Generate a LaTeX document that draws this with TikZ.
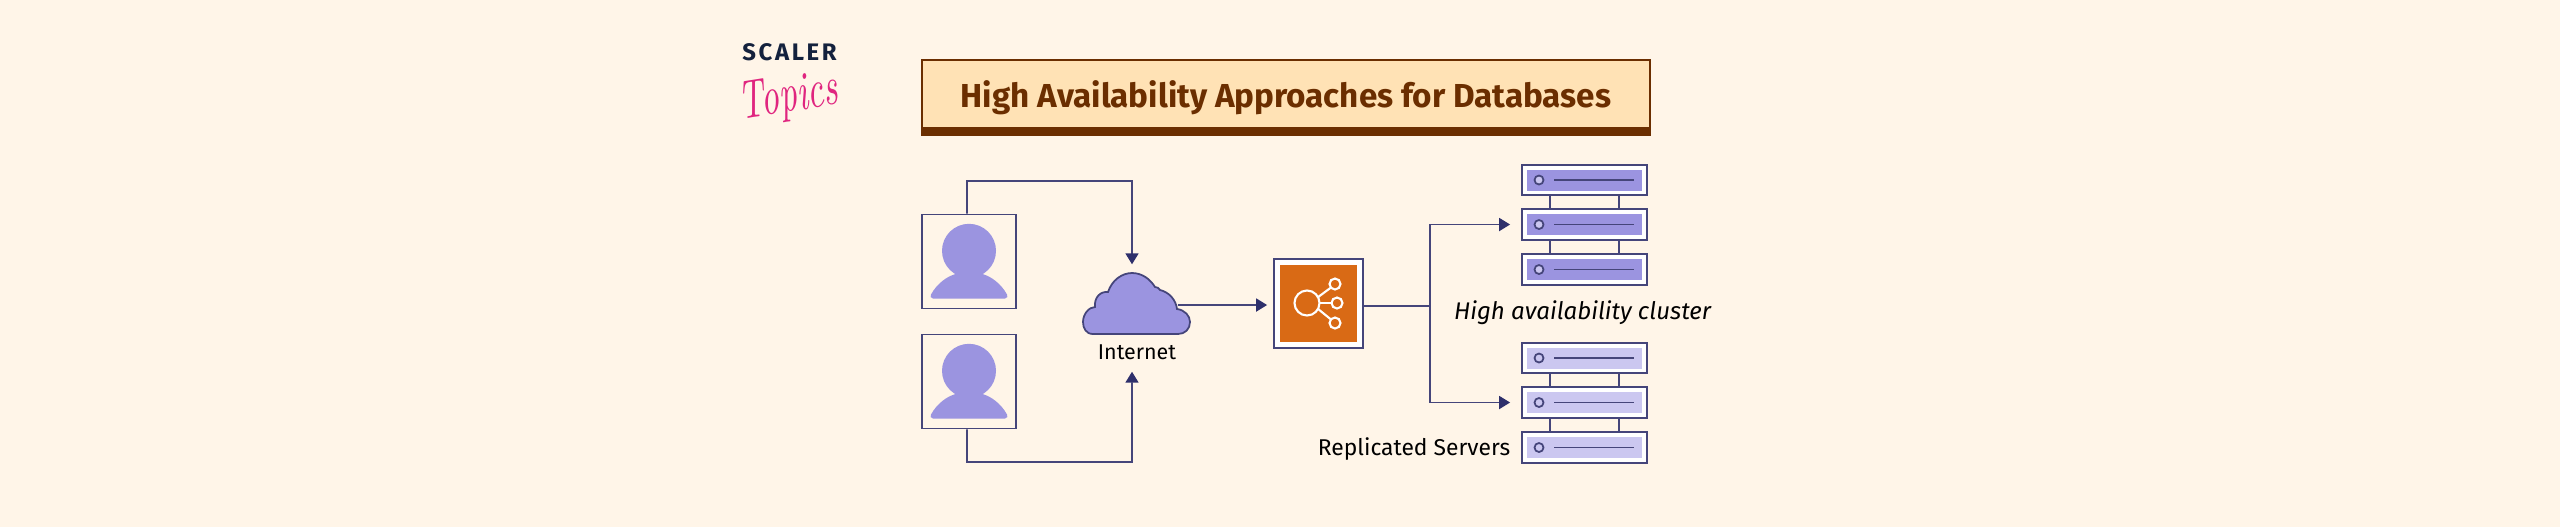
\documentclass[tikz,border=0pt]{standalone}
\usepackage{fontspec}
\setmainfont{Fira Sans}
\newfontfamily\logofont[LetterSpace=11]{Fira Sans}
\usetikzlibrary{arrows.meta,positioning,calc}
\definecolor{cream}{HTML}{FFF5E8}
\definecolor{titlefill}{HTML}{FFE2B5}
\definecolor{titlebrown}{HTML}{6B2E00}
\definecolor{navy}{HTML}{45457A}
\definecolor{tipnavy}{HTML}{2E2F6B}
\definecolor{lilac}{HTML}{9B94E0}
\definecolor{palelilac}{HTML}{CBC7F0}
\definecolor{lborange}{HTML}{D96A15}
\definecolor{logonavy}{HTML}{14213D}
\definecolor{logopink}{HTML}{E0257F}
\tikzset{titlebox/.style={draw=titlebrown,fill=titlefill,line width=0.4pt,inner sep=0pt,minimum width=7.28cm,minimum height=0.68cm,
 font=\fontsize{9.45}{11}\selectfont\bfseries,text=titlebrown},
 userbox/.style={draw=navy,line width=0.5pt,minimum size=0.94cm,inner sep=0pt},
 srvbox/.style={draw=navy,fill=white,line width=0.5pt,minimum width=1.25cm,minimum height=0.305cm,inner sep=0pt},
 flowline/.style={draw=navy,line width=0.5pt},
 flowarrow/.style={-{Triangle[length=0.11cm,width=0.13cm,color=tipnavy]},draw=navy,line width=0.5pt},
 lbl/.style={font=\fontsize{6.1}{8}\selectfont,text=black,inner sep=0pt}}

\begin{document}
\begin{tikzpicture}[x=1cm,y=-1cm]
\path[use as bounding box,fill=cream] (0,0) rectangle (25.6,5.27);
% logo
\node[font=\fontsize{6.8}{8}\selectfont\logofont\bfseries,text=logonavy,inner sep=0pt] (scaler) at (7.895,0.52) {SCALER};
\node[font=\fontsize{10}{12}\usefont{TU}{lmr}{m}{it},text=logopink,inner sep=0pt,rotate=9,yscale=1.55,transform shape] (topics) at (7.885,0.985) {Topics};
% title
\node[titlebox] (title) at (12.86,0.94) {\raisebox{-3.7pt}[0pt][0pt]{High Availability Approaches for Databases}};
\fill[titlebrown] (title.south west) rectangle ([yshift=-0.07cm]title.south east);
% users
\node[userbox] (user1) at (9.69,2.615) {};
\node[userbox] (user2) at (9.69,3.815) {};
\foreach \u in {1,2}{
 \begin{scope}[shift={(user\u.center)}]
 \fill[lilac] (0,-0.107) circle (0.27);
 \fill[lilac] (-0.36,0.37) .. controls (-0.385,0.37) and (-0.39,0.345) .. (-0.38,0.33) .. controls (-0.32,0.22) and (-0.22,0.15) .. (-0.14,0.127) -- (0.14,0.127) .. controls (0.22,0.15) and (0.32,0.22) .. (0.38,0.33) .. controls (0.39,0.345) and (0.385,0.37) .. (0.36,0.37) -- cycle;
 \end{scope}
}
% cloud
\node[inner sep=0pt,minimum width=1.07cm,minimum height=0.61cm] (cloud) at (11.365,3.035) {};
\draw[navy,fill=lilac,line width=0.5pt] (10.93,3.34) .. controls (10.86,3.34) and (10.83,3.28) .. (10.83,3.22) .. controls (10.83,3.14) and (10.89,3.07) .. (10.95,3.07) .. controls (10.94,2.98) and (11.00,2.91) .. (11.08,2.92) .. controls (11.12,2.80) and (11.22,2.73) .. (11.32,2.73) .. controls (11.42,2.73) and (11.50,2.79) .. (11.55,2.87) .. controls (11.57,2.87) and (11.59,2.88) .. (11.60,2.90) .. controls (11.69,2.92) and (11.76,3.00) .. (11.77,3.09) .. controls (11.85,3.10) and (11.90,3.16) .. (11.90,3.22) .. controls (11.90,3.29) and (11.85,3.34) .. (11.78,3.34) -- cycle;
\node[lbl] (internet) at (11.37,3.52) {Internet};
% load balancer
\node[draw=navy,fill=white,line width=0.5pt,minimum width=0.89cm,minimum height=0.89cm,inner sep=0pt] (lb) at (13.185,3.035) {};
\node[fill=lborange,minimum size=0.77cm,inner sep=0pt] (lbicon) at (lb.center) {};
\begin{scope}[shift={(lb.center)},draw=white,line width=0.6pt]
 \draw (-0.115,-0.005) circle (0.125);
 \draw (0.165,-0.195) circle (0.055);
 \draw (0.185,-0.005) circle (0.055);
 \draw (0.165,0.195) circle (0.055);
 \draw (-0.01,-0.06) -- (0.125,-0.16);
 \draw (0.01,-0.005) -- (0.13,-0.005);
 \draw (-0.01,0.05) -- (0.125,0.16);
\end{scope}
% servers
\foreach \g/\top/\srvfill in {a/1.80/lilac,b/3.58/palelilac}{
 \node[srvbox] (srv\g1) at (15.845,\top) {};
 \node[srvbox] (srv\g2) at (15.845,\top+0.445) {};
 \node[srvbox] (srv\g3) at (15.845,\top+0.895) {};
 \foreach \i in {1,2,3}{
  \fill[\srvfill] ([xshift=-0.575cm,yshift=0.105cm]srv\g\i.center) rectangle ([xshift=0.575cm,yshift=-0.105cm]srv\g\i.center);
  \draw[navy,fill=palelilac,line width=0.5pt] ([xshift=-0.455cm]srv\g\i.center) circle (0.045);
  \draw[navy,line width=0.5pt] ([xshift=-0.305cm]srv\g\i.center) -- ([xshift=0.495cm]srv\g\i.center);
 }
 \foreach \a/\b in {1/2,2/3}{
  \draw[flowline] ([xshift=-0.345cm]srv\g\a.south) -- ([xshift=-0.345cm]srv\g\b.north);
  \draw[flowline] ([xshift=0.345cm]srv\g\a.south) -- ([xshift=0.345cm]srv\g\b.north);
 }
}
\node[lbl,font=\fontsize{6.85}{9}\selectfont\itshape] (clusterlabel) at (15.825,3.13) {High availability cluster};
\node[lbl,font=\fontsize{6.5}{8}\selectfont] (replicalabel) at (14.14,4.49) {Replicated Servers};
% connectors
\coordinate (toproute) at (11.32,1.81);
\coordinate (bottomroute) at (11.32,4.62);
\coordinate (bus) at (14.30,3.06);
\draw[flowarrow,shorten >=0.08cm] ([xshift=-0.02cm]user1.north) |- (toproute) -- ([xshift=-0.045cm]cloud.north);
\draw[flowarrow,shorten >=0.37cm] ([xshift=-0.02cm]user2.south) |- (bottomroute) -- ([xshift=-0.045cm]cloud.south);
\draw[flowarrow,shorten >=0.06cm] ([xshift=-0.13cm,yshift=-0.015cm]cloud.east) -- ([yshift=-0.015cm]lb.west);
\draw[flowline] ([yshift=-0.025cm]lb.east) -- (bus);
\draw[flowarrow,shorten >=0.11cm] (bus) |- (srva2.west);
\draw[flowarrow,shorten >=0.11cm] (bus) |- (srvb2.west);
\end{tikzpicture}
\end{document}
